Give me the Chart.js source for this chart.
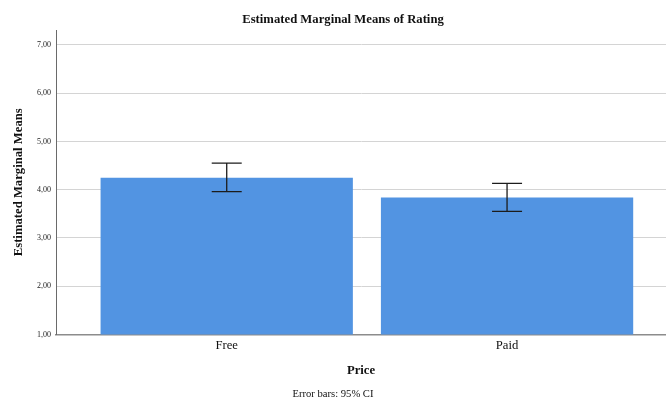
<!DOCTYPE html>
<html>
<head>
<meta charset="utf-8">
<script src="https://cdn.jsdelivr.net/npm/chart.js@4/dist/chart.umd.min.js"></script>
<style>
  html, body { margin: 0; padding: 0; background: #fff; }
  #wrap { width: 666px; height: 401px; }
</style>
</head>
<body>
<div id="wrap"><canvas id="c" width="666" height="401"></canvas></div>
<script>
// Estimated marginal means of Rating by Price, with 95% CI error bars
const categories = ['Free', 'Paid'];
const means = [4.25, 3.84];
const ciLower = [3.96, 3.55];
const ciUpper = [4.55, 4.13];
const yTicks = [1, 2, 3, 4, 5, 6, 7];
const yTickLabels = ['1,00', '2,00', '3,00', '4,00', '5,00', '6,00', '7,00'];

const SERIF = '"Liberation Serif", "Times New Roman", serif';

// Draws the confidence-interval whiskers on top of the bars
const errorBars = {
  id: 'errorBars',
  afterDatasetsDraw(chart) {
    const { ctx, scales: { x, y } } = chart;
    const cap = 15;
    ctx.save();
    ctx.strokeStyle = '#1c1c1c';
    ctx.lineWidth = 1.3;
    categories.forEach((c, i) => {
      const px = x.getPixelForValue(i);
      const lo = y.getPixelForValue(ciLower[i]);
      const hi = y.getPixelForValue(ciUpper[i]);
      ctx.beginPath();
      ctx.moveTo(px, lo); ctx.lineTo(px, hi);
      ctx.moveTo(px - cap, hi); ctx.lineTo(px + cap, hi);
      ctx.moveTo(px - cap, lo); ctx.lineTo(px + cap, lo);
      ctx.stroke();
    });
    ctx.restore();
  }
};

// Centre the heading and the footnote over the bars rather than the canvas
const textShift = {
  id: 'textShift',
  afterLayout(chart) {
    if (chart.titleBlock) chart.titleBlock.left = 20;
    if (chart.subtitleBlock) chart.subtitleBlock.left = 18;
  }
};

new Chart(document.getElementById('c'), {
  type: 'bar',
  data: {
    datasets: [{
      data: means.map((v, i) => ({ x: i, y: v })),
      backgroundColor: '#5294e2',
      borderWidth: 0,
      categoryPercentage: 1,
      barPercentage: 0.9
    }]
  },
  options: {
    responsive: false,
    animation: false,
    events: [],
    layout: { padding: 0 },
    plugins: {
      legend: { display: false },
      tooltip: { enabled: false },
      title: {
        display: true,
        text: 'Estimated Marginal Means of Rating',
        color: '#111',
        font: { family: SERIF, size: 12.7, weight: 'bold' },
        padding: { top: 12.4, bottom: 2.4 }
      },
      subtitle: {
        display: true,
        position: 'bottom',
        text: 'Error bars: 95% CI',
        color: '#111',
        font: { family: SERIF, size: 10.6 },
        padding: { top: 0, bottom: 0.6 }
      }
    },
    scales: {
      x: {
        type: 'linear',
        offset: false,
        min: -0.609,
        max: 1.567,
        afterBuildTicks(scale) { scale.ticks = categories.map((c, i) => ({ value: i })); },
        afterFit(scale) { scale.height = 53.2; },
        grid: { display: false, drawTicks: false },
        border: { display: true, color: '#8c8c8c', width: 1.5 },
        ticks: {
          padding: 4,
          color: '#111',
          font: { family: SERIF, size: 12.7 },
          callback: (v) => categories[v]
        },
        title: {
          display: true,
          text: 'Price',
          color: '#111',
          font: { family: SERIF, size: 12.7, weight: 'bold' },
          padding: { top: 0, bottom: 9.1 }
        }
      },
      y: {
        min: 1,
        max: 7.31,
        afterBuildTicks(scale) { scale.ticks = yTicks.map(v => ({ value: v })); },
        afterFit(scale) { scale.width = 56; },
        grid: { color: '#d4d4d4', lineWidth: 1, drawTicks: false },
        border: { display: true, color: '#6a6a6a', width: 1 },
        ticks: {
          padding: 5,
          color: '#222',
          font: { family: SERIF, size: 8 },
          callback: (v) => yTickLabels[yTicks.indexOf(v)]
        },
        title: {
          display: true,
          text: 'Estimated Marginal Means',
          color: '#111',
          font: { family: SERIF, size: 12.7, weight: 'bold' },
          padding: { top: 11.4, bottom: 0 }
        }
      }
    }
  },
  plugins: [errorBars, textShift]
});
</script>
</body>
</html>
